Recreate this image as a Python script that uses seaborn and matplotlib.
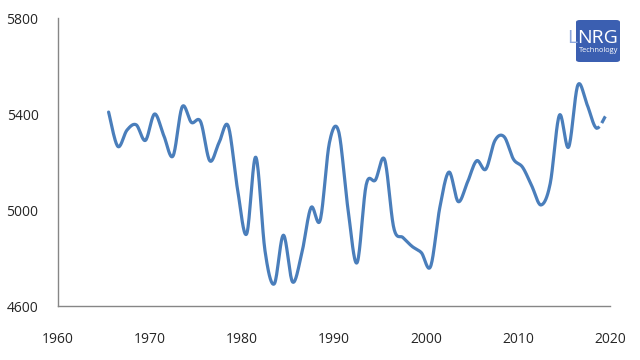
import numpy as np
import pandas as pd
import seaborn as sns
import matplotlib.pyplot as plt
from matplotlib.patches import FancyBboxPatch

# data (one value per year, plotted mid-year)
years = list(range(1965, 2020))
values = [5408, 5265, 5333, 5355, 5290, 5400, 5310, 5225, 5430, 5365,
          5368, 5205, 5280, 5350, 5090, 4900, 5220, 4830, 4692, 4895,
          4700, 4820, 5010, 4958, 5280, 5328, 5010, 4780, 5105, 5125,
          5210, 4925, 4885, 4848, 4822, 4765, 5010, 5158, 5035, 5115,
          5205, 5170, 5290, 5305, 5212, 5178, 5100, 5021, 5110, 5395,
          5262, 5520, 5440, 5342, 5390]
n_projected = 1  # last value drawn dashed

x_ticks = [1960, 1970, 1980, 1990, 2000, 2010, 2020]
y_ticks = [4600, 5000, 5400, 5800]

line_color = "#4a7ebb"
axis_color = "#868686"
text_color = "#262626"


def smooth(xs, ys, steps=20):
    # Catmull-Rom spline, like a spreadsheet "smoothed line"
    px = np.concatenate([[xs[0]], xs, [xs[-1]]])
    py = np.concatenate([[ys[0]], ys, [ys[-1]]])
    out_x, out_y = [], []
    t = np.linspace(0, 1, steps)
    for i in range(1, len(px) - 2):
        for p, out in ((px, out_x), (py, out_y)):
            p0, p1, p2, p3 = p[i - 1], p[i], p[i + 1], p[i + 2]
            seg = 0.5 * ((2 * p1) + (-p0 + p2) * t
                         + (2 * p0 - 5 * p1 + 4 * p2 - p3) * t ** 2
                         + (-p0 + 3 * p1 - 3 * p2 + p3) * t ** 3)
            out.extend(seg if i == 1 else seg[1:])
    return np.array(out_x), np.array(out_y)


xs = np.array(years, dtype=float) + 0.5
ys = np.array(values, dtype=float)
cx, cy = smooth(xs, ys)
split = (len(xs) - 1 - n_projected) * 19 + 1
solid = pd.DataFrame({"year": cx[:split], "value": cy[:split]})
dashed = pd.DataFrame({"year": cx[split - 1:], "value": cy[split - 1:]})

sns.set_style("white")
plt.rcParams["font.family"] = ["Open Sans", "DejaVu Sans"]

fig = plt.figure(figsize=(6.4, 3.6), dpi=100)
ax = fig.add_axes([58 / 640, 54 / 360, 552 / 640, 288 / 360])

sns.lineplot(data=solid, x="year", y="value", ax=ax, sort=False,
             estimator=None, color=line_color, linewidth=2.3)
sns.lineplot(data=dashed, x="year", y="value", ax=ax, sort=False,
             estimator=None, color=line_color, linewidth=2.3,
             linestyle=(0, (1.2, 1.3, 3.0, 1.0)))

ax.set_xlim(1960, 2020)
ax.set_ylim(4600, 5800)
ax.set_xticks(x_ticks)
ax.set_yticks(y_ticks)
ax.set_xlabel("")
ax.set_ylabel("")

sns.despine(ax=ax)
for side in ("left", "bottom"):
    ax.spines[side].set_color(axis_color)
    ax.spines[side].set_linewidth(1.0)
ax.tick_params(axis="both", direction="out", length=5, width=1.0,
               color=axis_color, labelcolor=text_color, labelsize=10)
ax.tick_params(axis="y", pad=9)
ax.tick_params(axis="x", pad=14)

# logo in the top right corner
logo = FancyBboxPatch((576 / 640, 298 / 360), 44 / 640, 42 / 360,
                      boxstyle="round,pad=0,rounding_size=0.006",
                      transform=fig.transFigure, facecolor="#3b5fb1",
                      edgecolor="none")
fig.patches.append(logo)
fig.text(567 / 640, 322 / 360, "L", color="#8fa8dc", fontsize=14,
         ha="left", va="center", family="Open Sans")
fig.text(577 / 640, 322 / 360, "NRG", color="white", fontsize=14,
         ha="left", va="center", family="Open Sans")
fig.text(618 / 640, 310 / 360, "Technology", color="white", fontsize=5.4,
         ha="right", va="center", family="Open Sans")

plt.savefig("out.png", dpi=100)
plt.close()
